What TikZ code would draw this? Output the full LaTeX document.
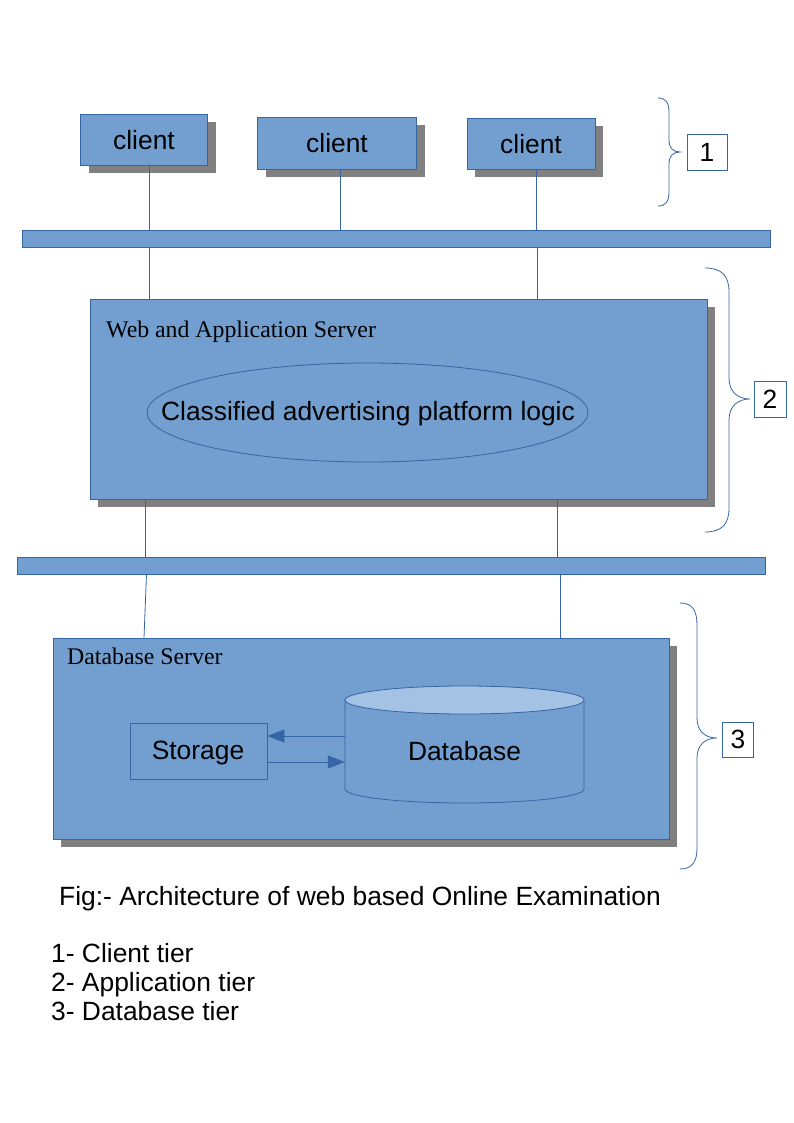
\documentclass[tikz,border=0pt]{standalone}
\usepackage{fontspec}
\setmainfont{Liberation Sans}
\newfontfamily\srf{Liberation Serif}
\usetikzlibrary{shadows,arrows.meta,shapes.geometric}
\definecolor{boxfill}{HTML}{729FCF}
\definecolor{boxline}{HTML}{3465A4}
\definecolor{shadowgray}{HTML}{808080}
\definecolor{cyltop}{HTML}{A4C2E4}
\begin{document}
\begin{tikzpicture}[x=1pt,y=-1pt,
  blk/.style={draw=boxline, fill=boxfill, line width=0.9pt, inner sep=0pt,
    drop shadow={shadow xshift=8pt, shadow yshift=-8pt, fill=shadowgray, opacity=1}},
  busbar/.style={draw=boxline, fill=boxfill, line width=0.9pt, inner sep=0pt},
  conn/.style={draw=boxline, line width=0.8pt},
  bracepath/.style={draw=boxline, line width=0.8pt},
  numbox/.style={draw=boxline, fill=white, line width=0.8pt, inner sep=0pt, font=\fontsize{26.4}{30}\selectfont},
  big/.style={font=\fontsize{26.4}{30}\selectfont},
  ttl/.style={font=\srf\fontsize{23.8}{28}\selectfont, anchor=base west, inner sep=0pt},
  txt/.style={font=\fontsize{26.4}{30}\selectfont, anchor=base west, inner sep=0pt},
  flow/.style={draw=boxline, line width=0.8pt, -{Triangle[length=17pt,width=13pt]}}
]
\useasboundingbox (0,0) rectangle (794,1123);

% clients
\node[blk, big, minimum width=127pt, minimum height=51pt] (c1) at (144,140) {client};
\node[blk, big, minimum width=159pt, minimum height=52pt] (c2) at (337,143.5) {client};
\node[blk, big, minimum width=128pt, minimum height=51pt] (c3) at (531,144) {client};

% bus 1
\node[busbar, minimum width=748pt, minimum height=16.5pt] (bus1) at (396,239) {};

% application server
\node[blk, minimum width=617pt, minimum height=200pt] (app) at (398.5,399) {};
\node[ttl] (apptitle) at (106,337) {Web and Application Server};
\node[ellipse, draw=boxline, line width=0.8pt, inner sep=0pt, minimum width=441pt, minimum height=99pt] (logic) at (367.5,412.5) {};
\node[big, inner sep=0pt, anchor=base] (logictext) at (368,420.5) {Classified advertising platform logic};

% bus 2
\node[busbar, minimum width=748pt, minimum height=17pt] (bus2) at (391,565.5) {};

% database server
\node[blk, minimum width=616pt, minimum height=201pt] (dbs) at (361,738.5) {};
\node[ttl] (dbtitle) at (67,664) {Database Server};

% storage
\node[draw=boxline, line width=0.8pt, inner sep=0pt, minimum width=137pt, minimum height=56pt] (storage) at (198.5,751) {};
\node[big, inner sep=0pt, anchor=base] (storagetext) at (198,759.5) {Storage};

% cylinder
\path[fill=boxfill, draw=boxline, line width=0.8pt] (345,700) -- (345,789) arc[start angle=180, end angle=360, x radius=119.5pt, y radius=14pt] -- (584,700);
\draw[fill=cyltop, draw=boxline, line width=0.8pt] (464.5,700) ellipse [x radius=119.5pt, y radius=14pt];
\node[inner sep=0pt, minimum width=239pt, big] (db) at (464.5,751) {Database};

% arrows storage <-> database
\coordinate (a1) at (0,736);
\coordinate (a2) at (0,762);
\draw[flow] (db.west |- a1) -- (storage.east |- a1);
\draw[flow] (storage.east |- a2) -- (db.west |- a2);

% connector x positions
\coordinate (x1) at (149,0);
\coordinate (x2) at (340.5,0);
\coordinate (x3) at (536.5,0);
\coordinate (x4) at (537.5,0);
\coordinate (x5) at (145,0);
\coordinate (x6) at (557,0);
\coordinate (x7a) at (146.5,0);
\coordinate (x7b) at (144,0);
\coordinate (x8) at (560,0);

\draw[conn] (c1.south -| x1) -- (bus1.north -| x1);
\draw[conn] (c2.south -| x2) -- (bus1.north -| x2);
\draw[conn] (c3.south -| x3) -- (bus1.north -| x3);
\draw[conn] (bus1.south -| x1) -- (app.north -| x1);
\draw[conn] (bus1.south -| x4) -- (app.north -| x4);
\draw[conn] (app.south -| x5) -- (bus2.north -| x5);
\draw[conn] (app.south -| x6) -- (bus2.north -| x6);
\draw[conn] (bus2.south -| x7a) -- (dbs.north -| x7b);
\draw[conn] (bus2.south -| x8) -- (dbs.north -| x8);

% braces
\draw[bracepath] (658,98) .. controls (666,98) and (669,103) .. (669,112) -- (669,140)
  .. controls (669,148) and (673,152) .. (680,152)
  .. controls (673,152) and (669,156) .. (669,164) -- (669,192)
  .. controls (669,201) and (666,206) .. (658,206);
\draw[bracepath] (705,268) .. controls (722,268) and (729,276) .. (729,292) -- (729,378)
  .. controls (729,392) and (738,399) .. (750,399)
  .. controls (738,399) and (729,406) .. (729,420) -- (729,508)
  .. controls (729,524) and (722,532) .. (705,532);
\draw[bracepath] (680,603) .. controls (692,603) and (697,610) .. (697,625) -- (697,718)
  .. controls (697,731) and (705,738) .. (717,738)
  .. controls (705,738) and (697,745) .. (697,758) -- (697,848)
  .. controls (697,862) and (692,869) .. (680,869);

% tier numbers
\node[numbox, minimum width=40pt, minimum height=36pt] (n1) at (707,152) {1};
\node[numbox, minimum width=32pt, minimum height=36pt] (n2) at (770,399) {2};
\node[numbox, minimum width=31pt, minimum height=35pt] (n3) at (738,739.5) {3};

% caption and legend
\node[txt] (cap) at (59,905) {Fig:- Architecture of web based Online Examination};
\node[txt] (l1) at (51,962) {1- Client tier};
\node[txt] (l2) at (51,991) {2- Application tier};
\node[txt] (l3) at (51,1020) {3- Database tier};
\end{tikzpicture}
\end{document}
